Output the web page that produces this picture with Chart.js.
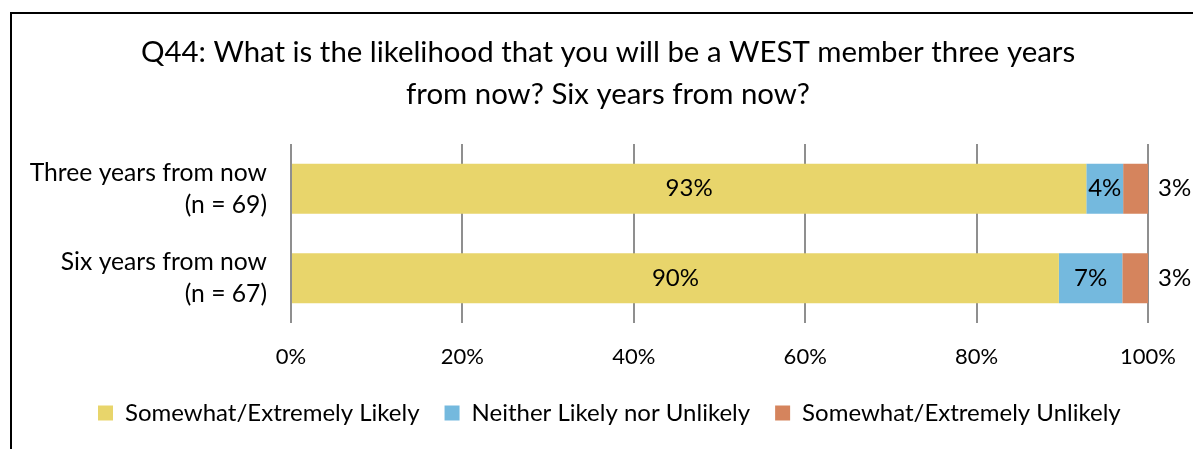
<!DOCTYPE html>
<html>
<head>
<meta charset="utf-8">
<script src="https://cdn.jsdelivr.net/npm/chart.js@4.4.1/dist/chart.umd.min.js"></script>
<style>
  html, body { margin: 0; padding: 0; background: #fff; width: 1193px; height: 449px; overflow: hidden; }
  #frame { position: absolute; left: 10px; top: 12px; width: 1181px; height: 435px;
           border-left: 2px solid #000; border-top: 2px solid #000; }
  #c { display: block; }
</style>
</head>
<body>
<div id="frame"><canvas id="c" width="1181" height="435"></canvas></div>
<script>
const categories = [["Three years from now", "(n = 69)"], ["Six years from now", "(n = 67)"]];
const seriesNames = ["Somewhat/Extremely Likely", "Neither Likely nor Unlikely", "Somewhat/Extremely Unlikely"];
const likely   = [92.8, 89.6];
const neither  = [4.3, 7.4];
const unlikely = [2.9, 3.0];
const xTicks = [0, 20, 40, 60, 80, 100];
const colors = ["#E8D56B", "#74B9DE", "#D5845D"];
const FONT = "Lato, 'Open Sans', sans-serif";

Chart.defaults.color = "#000";
Chart.defaults.font.family = FONT;

const labelPlugin = {
  id: "segLabels",
  afterDatasetsDraw(chart) {
    const ctx = chart.ctx;
    ctx.save();
    ctx.font = "24px " + FONT;
    ctx.fillStyle = "#000";
    ctx.textBaseline = "middle";
    chart.data.datasets.forEach((ds, di) => {
      const meta = chart.getDatasetMeta(di);
      meta.data.forEach((bar, i) => {
        const txt = Math.round(ds.data[i]) + "%";
        if (di === 2) {
          ctx.textAlign = "left";
          ctx.fillText(txt, bar.x + 10, bar.y);
        } else {
          ctx.textAlign = "center";
          ctx.fillText(txt, (bar.x + bar.base) / 2, bar.y);
        }
      });
    });
    ctx.restore();
  }
};

const layoutTweak = {
  id: "layoutTweak",
  afterLayout(chart) {
    if (chart.legend) { chart.legend.left = 61; }
    if (chart.titleBlock) { chart.titleBlock.left = 0; chart.titleBlock.right = 1192; }
  }
};

new Chart(document.getElementById("c"), {
  type: "bar",
  data: {
    labels: categories,
    datasets: [
      { label: seriesNames[0], data: likely, backgroundColor: colors[0] },
      { label: seriesNames[1], data: neither, backgroundColor: colors[1] },
      { label: seriesNames[2], data: unlikely, backgroundColor: colors[2] }
    ]
  },
  options: {
    indexAxis: "y",
    responsive: false,
    animation: false,
    events: [],
    datasets: { bar: { barPercentage: 0.56, categoryPercentage: 1, borderWidth: 0 } },
    layout: { padding: { left: 0, right: 45, top: 0, bottom: 14 } },
    scales: {
      x: {
        stacked: true, min: 0, max: 100,
        afterBuildTicks(scale) { scale.ticks = xTicks.map(v => ({ value: v })); },
        ticks: { callback: v => v + "%", padding: 20.8, font: { size: 22 }, color: "#000", maxRotation: 0 },
        grid: { color: "#8f8f8f", lineWidth: 2, drawTicks: false },
        border: { display: false },
        afterFit(scale) { scale.height = 53; scale.paddingLeft = 0; scale.paddingRight = 0; }
      },
      y: {
        stacked: true,
        ticks: { padding: 24, font: { size: 24.7, lineHeight: 1.3 }, color: "#000" },
        grid: { display: false, drawTicks: false },
        border: { display: false },
        afterFit(scale) { scale.width = 279; }
      }
    },
    plugins: {
      title: {
        display: true,
        text: ["Q44: What is the likelihood that you will be a WEST member three years", "from now? Six years from now?"],
        font: { size: 29.4, weight: "normal", lineHeight: 1.43 },
        color: "#000",
        padding: { top: 17, bottom: 28.9 }
      },
      legend: {
        position: "bottom",
        align: "start",
        labels: { boxWidth: 15, boxHeight: 15, padding: 25, font: { size: 24 }, color: "#000" }
      },
      tooltip: { enabled: false }
    }
  },
  plugins: [labelPlugin, layoutTweak]
});
</script>
</body>
</html>
